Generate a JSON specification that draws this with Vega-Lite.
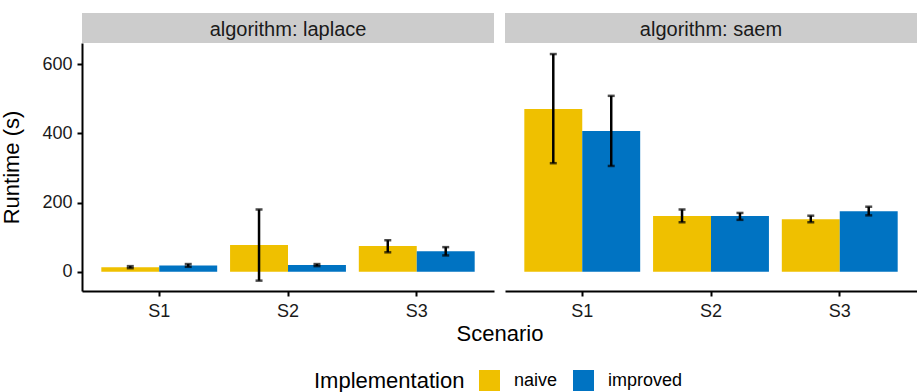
{
  "$schema": "https://vega.github.io/schema/vega-lite/v6.json",
  "autosize": {"type": "pad"},
  "padding": {"left": 0, "top": 13, "right": 0, "bottom": 0},
  "background": "white",
  "datasets": {
    "runs": [
      {"algorithm": "laplace", "scenario": "S1", "impl": "naive", "mean": 13, "lo": 10, "hi": 16},
      {"algorithm": "laplace", "scenario": "S1", "impl": "improved", "mean": 18, "lo": 14, "hi": 22},
      {"algorithm": "laplace", "scenario": "S2", "impl": "naive", "mean": 77, "lo": -26, "hi": 180},
      {"algorithm": "laplace", "scenario": "S2", "impl": "improved", "mean": 19, "lo": 16, "hi": 22},
      {"algorithm": "laplace", "scenario": "S3", "impl": "naive", "mean": 74, "lo": 56, "hi": 91},
      {"algorithm": "laplace", "scenario": "S3", "impl": "improved", "mean": 59, "lo": 47, "hi": 71},
      {"algorithm": "saem", "scenario": "S1", "impl": "naive", "mean": 471, "lo": 314, "hi": 630},
      {"algorithm": "saem", "scenario": "S1", "impl": "improved", "mean": 407, "lo": 306, "hi": 509},
      {"algorithm": "saem", "scenario": "S2", "impl": "naive", "mean": 161, "lo": 143, "hi": 180},
      {"algorithm": "saem", "scenario": "S2", "impl": "improved", "mean": 161, "lo": 150, "hi": 170},
      {"algorithm": "saem", "scenario": "S3", "impl": "naive", "mean": 152, "lo": 143, "hi": 162},
      {"algorithm": "saem", "scenario": "S3", "impl": "improved", "mean": 175, "lo": 163, "hi": 188}
    ]
  },
  "columns": 2,
  "bounds": "flush",
  "spacing": {"row": 0, "column": 11},
  "concat": [
    {
      "width": 412, "height": 30,
      "view": {"fill": "#cccccc", "stroke": null},
      "data": {"values": [{"label": "algorithm: laplace"}]},
      "mark": {"type": "text", "fontSize": 20, "font": "Liberation Sans", "color": "#1a1a1a", "baseline": "middle", "dy": 2},
      "encoding": {"text": {"field": "label"}}
    },
    {
      "width": 412, "height": 30,
      "view": {"fill": "#cccccc", "stroke": null},
      "data": {"values": [{"label": "algorithm: saem"}]},
      "mark": {"type": "text", "fontSize": 20, "font": "Liberation Sans", "color": "#1a1a1a", "baseline": "middle", "dy": 2},
      "encoding": {"text": {"field": "label"}}
    },
    {
      "width": 412, "height": 248,
      "data": {"name": "runs"},
      "transform": [{"filter": "datum.algorithm === 'laplace'"}],
      "encoding": {
        "x": {"field": "scenario", "type": "nominal", "sort": ["S1", "S2", "S3"],
              "scale": {"paddingInner": 0.1, "paddingOuter": 0.15},
              "axis": {"title": "Scenario", "titleX": 417.5}},
        "xOffset": {"field": "impl", "type": "nominal", "sort": ["naive", "improved"],
                    "scale": {"paddingInner": 0, "paddingOuter": 0}}
      },
      "layer": [
        {
          "mark": {"type": "bar"},
          "encoding": {
            "y": {"field": "mean", "type": "quantitative",
                  "scale": {"domain": [-56, 662], "nice": false, "zero": false},
                  "axis": {"title": "Runtime (s)", "values": [0, 200, 400, 600]}},
            "color": {"field": "impl", "type": "nominal",
                      "scale": {"domain": ["naive", "improved"], "range": ["#EFC000", "#0073C2"]},
                      "legend": {"title": "Implementation", "orient": "none", "legendX": 232, "legendY": 357, "direction": "horizontal", "titleOrient": "left"}}
          }
        },
        {
          "mark": {"type": "rule", "color": "black", "strokeWidth": 2.5},
          "encoding": {
            "y": {"field": "lo", "type": "quantitative", "axis": {"title": "Runtime (s)", "values": [0, 200, 400, 600]}},
            "y2": {"field": "hi"}
          }
        },
        {
          "mark": {"type": "tick", "color": "black", "thickness": 2.5, "size": 7},
          "encoding": {"y": {"field": "lo", "type": "quantitative", "axis": {"title": "Runtime (s)", "values": [0, 200, 400, 600]}}}
        },
        {
          "mark": {"type": "tick", "color": "black", "thickness": 2.5, "size": 7},
          "encoding": {"y": {"field": "hi", "type": "quantitative", "axis": {"title": "Runtime (s)", "values": [0, 200, 400, 600]}}}
        }
      ]
    },
    {
      "width": 412, "height": 248,
      "data": {"name": "runs"},
      "transform": [{"filter": "datum.algorithm === 'saem'"}],
      "encoding": {
        "x": {"field": "scenario", "type": "nominal", "sort": ["S1", "S2", "S3"],
              "scale": {"paddingInner": 0.1, "paddingOuter": 0.15},
              "axis": {"title": null}},
        "xOffset": {"field": "impl", "type": "nominal", "sort": ["naive", "improved"],
                    "scale": {"paddingInner": 0, "paddingOuter": 0}}
      },
      "layer": [
        {
          "mark": {"type": "bar"},
          "encoding": {
            "y": {"field": "mean", "type": "quantitative",
                  "scale": {"domain": [-56, 662], "nice": false, "zero": false},
                  "axis": null},
            "color": {"field": "impl", "type": "nominal",
                      "scale": {"domain": ["naive", "improved"], "range": ["#EFC000", "#0073C2"]},
                      "legend": {"title": "Implementation", "orient": "none", "legendX": 232, "legendY": 357, "direction": "horizontal", "titleOrient": "left"}}
          }
        },
        {
          "mark": {"type": "rule", "color": "black", "strokeWidth": 2.5},
          "encoding": {
            "y": {"field": "lo", "type": "quantitative", "axis": null},
            "y2": {"field": "hi"}
          }
        },
        {
          "mark": {"type": "tick", "color": "black", "thickness": 2.5, "size": 7},
          "encoding": {"y": {"field": "lo", "type": "quantitative", "axis": null}}
        },
        {
          "mark": {"type": "tick", "color": "black", "thickness": 2.5, "size": 7},
          "encoding": {"y": {"field": "hi", "type": "quantitative", "axis": null}}
        }
      ]
    }
  ],
  "config": {
    "view": {"stroke": null},
    "font": "Liberation Sans",
    "axis": {
      "domainColor": "black", "domainWidth": 2, "tickColor": "black", "tickWidth": 2, "tickSize": 5,
      "labelColor": "#1a1a1a", "labelFontSize": 18, "labelFont": "Liberation Sans",
      "titleFont": "Liberation Sans", "titleFontSize": 22, "titleFontWeight": "normal", "titleColor": "black",
      "grid": false, "labelPadding": 5
    },
    "axisX": {"labelPadding": 6, "titlePadding": 3, "labelAngle": 0},
    "axisY": {"titlePadding": 18},
    "legend": {
      "titleFontSize": 22, "titleFontWeight": "normal", "titleColor": "black", "titleFont": "Liberation Sans",
      "labelFontSize": 18, "labelColor": "black", "labelFont": "Liberation Sans",
      "symbolType": "square", "symbolSize": 441, "symbolStrokeWidth": 0, "symbolOpacity": 1,
      "labelOffset": 14, "columnPadding": 15, "titlePadding": 14, "padding": 0
    }
  }
}
